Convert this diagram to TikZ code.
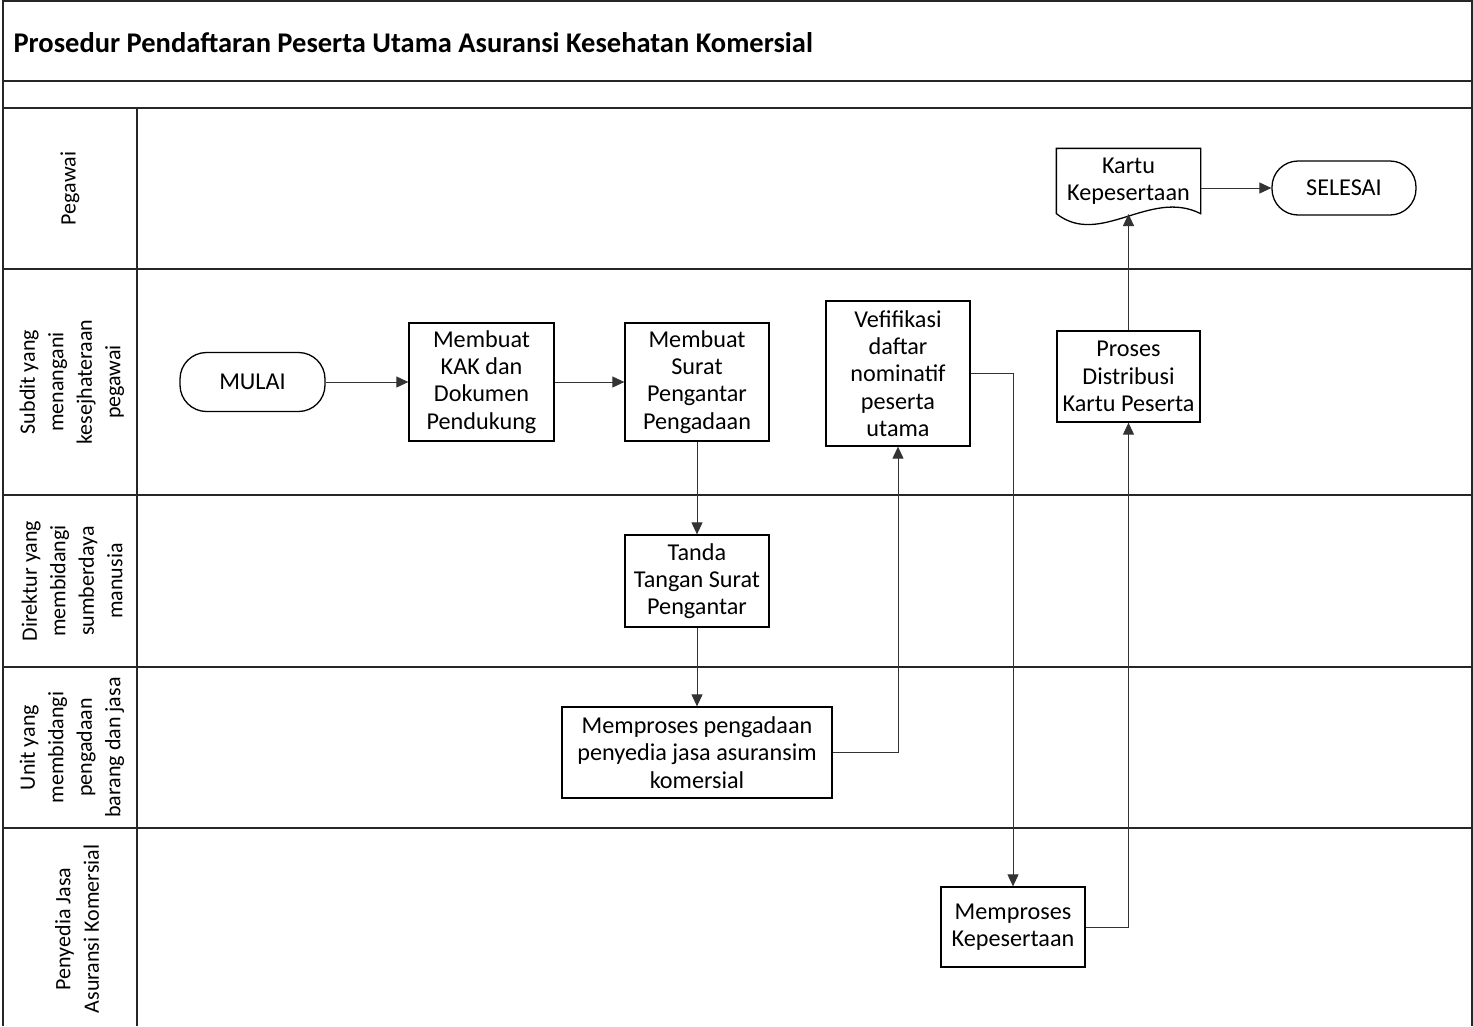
\documentclass[tikz,border=0pt]{standalone}
\usepackage{fontspec}
\setmainfont{Carlito}
\usetikzlibrary{arrows.meta}
\begin{document}
\begin{tikzpicture}[x=1pt,y=-1pt,
  lane/.style={line width=2pt, draw=black!85},
  box/.style={draw, line width=1.3pt, align=center, inner sep=0pt, font=\fontsize{24.2}{27.3}\selectfont},
  term/.style={box, rounded corners=26.5pt},
  conn/.style={line width=1pt, draw=black!80, -{Triangle[length=12pt,width=11pt]}},
  lbl/.style={rotate=90, align=center, font=\fontsize{22}{28.5}\selectfont}
]
\useasboundingbox (0,0) rectangle (1473,1026);
% frame and lanes
\draw[lane] (3,1026) -- (3,1) -- (1472,1) -- (1472,1026);
\foreach \yy in {81,108,269,495,667,828} \draw[lane] (3,\yy) -- (1472,\yy);
\draw[lane] (137,108) -- (137,1026);
% title
\node[anchor=west, font=\fontsize{28.5}{32}\selectfont\bfseries] (title) at (10,43) {Prosedur Pendaftaran Peserta Utama Asuransi Kesehatan Komersial};
% lane labels
\node[lbl] (l1) at (70,188.5) {Pegawai};
\node[lbl] (l2) at (72,382) {Subdit yang\\menangani\\kesejhateraan\\pegawai};
\node[lbl] (l3) at (72,581) {Direktur yang\\membidangi\\sumberdaya\\manusia};
\node[lbl] (l4) at (72,747.5) {Unit yang\\membidangi\\pengadaan\\barang dan jasa};
\node[lbl] (l5) at (77,929) {Penyedia Jasa\\Asuransi Komersial};
% nodes
\node[term, minimum width=145pt, minimum height=59pt] (mulai) at (252.5,382) {MULAI};
\node[box, minimum width=145pt, minimum height=118pt] (kak) at (481.5,382) {Membuat\\KAK dan\\Dokumen\\Pendukung};
\node[box, minimum width=144pt, minimum height=118pt] (surat) at (697,382) {Membuat\\Surat\\Pengantar\\Pengadaan};
\node[box, minimum width=144pt, minimum height=145pt] (verif) at (898,373.5) {Vefifikasi\\daftar\\nominatif\\peserta\\utama};
\node[box, minimum width=143pt, minimum height=91pt] (distr) at (1128.5,376.5) {Proses\\Distribusi\\Kartu Peserta};
\node[box, minimum width=144pt, minimum height=92pt] (tanda) at (697,581) {Tanda\\Tangan Surat\\Pengantar};
\node[box, minimum width=270pt, minimum height=91pt] (pengadaan) at (697,752.5) {Memproses pengadaan\\penyedia jasa asuransim\\komersial};
\node[box, minimum width=144pt, minimum height=80pt] (kepes) at (1013,927) {Memproses\\Kepesertaan};
\node[term, minimum width=144pt, minimum height=54pt, rounded corners=26pt] (selesai) at (1344,188) {SELESAI};
% document shape
\node[box, draw=none, minimum width=143pt, minimum height=64pt] (kartu) at (1128.5,181) {Kartu\\Kepesertaan};
\draw[line width=1.3pt] (kartu.south west) -- (kartu.north west) -- (kartu.north east) -- (kartu.south east)
  .. controls (1150,188) and (1100,248) .. (kartu.south west) -- cycle;
\coordinate (kartuB) at (1128.5,214);
% connectors
\draw[conn] (mulai) -- (kak);
\draw[conn] (kak) -- (surat);
\draw[conn] (surat) -- (tanda);
\draw[conn] (tanda) -- (pengadaan);
\draw[conn] (pengadaan.east) -| (verif.south);
\draw[conn] (verif.east) -| (kepes.north);
\draw[conn] (kepes.east) -| (distr.south);
\draw[conn] (distr.north) -- (kartuB);
\draw[conn] (selesai.west -| kartu.east) -- (selesai.west);
\end{tikzpicture}
\end{document}
